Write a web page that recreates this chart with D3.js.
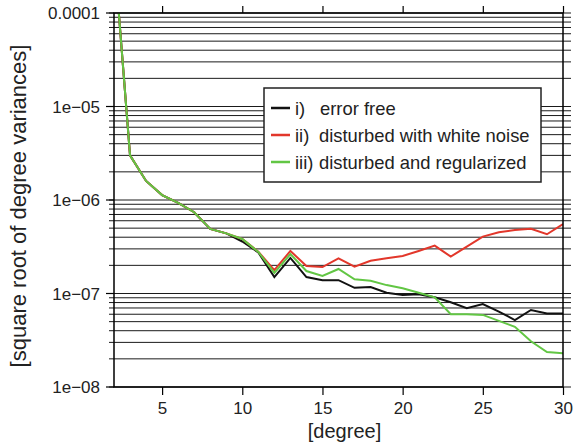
<!DOCTYPE html>
<html>
<head>
<meta charset="utf-8">
<script src="https://cdn.jsdelivr.net/npm/d3@7"></script>
<style>
  body { margin: 0; background: #fff; }
  svg { font-family: "Liberation Sans", Arial, sans-serif; }
</style>
</head>
<body>
<div class="graph"></div>
<script>
// data
const degrees = d3.range(2, 31);
const errorFree = [4.5e-4, 3.0e-6, 1.6e-6, 1.13e-6, 9.3e-7, 7.4e-7, 4.9e-7, 4.4e-7, 3.6e-7, 2.75e-7,
  1.5e-7, 2.4e-7, 1.5e-7, 1.39e-7, 1.39e-7, 1.15e-7, 1.17e-7, 1.02e-7, 9.65e-8, 9.8e-8,
  9.1e-8, 8.05e-8, 6.95e-8, 7.7e-8, 6.4e-8, 5.2e-8, 6.67e-8, 6.1e-8, 6.1e-8];
const whiteNoise = [4.5e-4, 3.0e-6, 1.6e-6, 1.13e-6, 9.3e-7, 7.4e-7, 4.9e-7, 4.4e-7, 3.83e-7, 2.8e-7,
  1.78e-7, 2.85e-7, 1.97e-7, 1.92e-7, 2.38e-7, 1.94e-7, 2.24e-7, 2.38e-7, 2.52e-7, 2.85e-7,
  3.25e-7, 2.48e-7, 3.17e-7, 4.06e-7, 4.51e-7, 4.77e-7, 4.93e-7, 4.3e-7, 5.54e-7];
const regularized = [4.5e-4, 3.0e-6, 1.6e-6, 1.13e-6, 9.3e-7, 7.4e-7, 4.9e-7, 4.4e-7, 3.83e-7, 2.78e-7,
  1.66e-7, 2.64e-7, 1.74e-7, 1.54e-7, 1.83e-7, 1.42e-7, 1.37e-7, 1.23e-7, 1.14e-7, 1.02e-7,
  9.1e-8, 6.0e-8, 6.0e-8, 5.9e-8, 5.1e-8, 4.4e-8, 3.08e-8, 2.37e-8, 2.29e-8];
const xTicks = [5, 10, 15, 20, 25, 30];
const yMajor = [1e-8, 1e-7, 1e-6, 1e-5, 1e-4];
const yLabels = ["1e\u221208", "1e\u221207", "1e\u221206", "1e\u221205", "0.0001"];
const seriesNames = ["error free", "disturbed with white noise", "disturbed and regularized"];
const seriesNums = ["i)", "ii)", "iii)"];
const seriesColors = ["#111111", "#e2372b", "#62c644"];

//dimensions
const SIZE = {X: 578, Y: 447};
const PLOT = {LEFT: 114, RIGHT: 563, TOP: 13, BOTTOM: 387};

const svg = d3.select(".graph").append("svg")
    .attr("width", SIZE.X)
    .attr("height", SIZE.Y);

//scales
const x = d3.scaleLinear().domain([2, 30]).range([PLOT.LEFT, PLOT.RIGHT]);
const y = d3.scaleLog().domain([1e-8, 1e-4]).range([PLOT.BOTTOM, PLOT.TOP]);

//horizontal grid at every log tick, sticking out a bit on both sides
const allTicks = y.ticks().filter(v => v >= 1e-8 && v <= 1e-4 * 1.0001);
svg.append("g").selectAll("line")
    .data(allTicks)
    .join("line")
    .attr("x1", PLOT.LEFT - 5)
    .attr("x2", PLOT.RIGHT + 8)
    .attr("y1", d => y(d))
    .attr("y2", d => y(d))
    .attr("stroke", "#1a1a1a")
    .attr("stroke-width", 1);

//longer ticks at decades
svg.append("g").selectAll("line")
    .data(yMajor)
    .join("line")
    .attr("x1", PLOT.LEFT - 8)
    .attr("x2", PLOT.LEFT)
    .attr("y1", d => y(d))
    .attr("y2", d => y(d))
    .attr("stroke", "#000")
    .attr("stroke-width", 1.2);

//y tick labels
svg.append("g").selectAll("text")
    .data(yMajor)
    .join("text")
    .attr("x", PLOT.LEFT - 14)
    .attr("y", d => y(d))
    .attr("dy", "0.36em")
    .attr("text-anchor", "end")
    .attr("font-size", 17)
    .attr("fill", "#222")
    .text((d, i) => yLabels[i]);

//x ticks bottom and top
const xAxisBottom = svg.append("g")
    .attr("transform", `translate(0, ${PLOT.BOTTOM})`)
    .call(d3.axisBottom(x).tickValues(xTicks).tickSize(8).tickPadding(7));
const xAxisTop = svg.append("g")
    .attr("transform", `translate(0, ${PLOT.TOP})`)
    .call(d3.axisTop(x).tickValues(xTicks).tickSize(7).tickFormat(""));
[xAxisBottom, xAxisTop].forEach(a => {
    a.select(".domain").remove();
    a.selectAll("line").attr("stroke", "#000").attr("stroke-width", 1.2);
});
xAxisBottom.selectAll("text")
    .attr("font-size", 17)
    .attr("font-family", "Liberation Sans, Arial, sans-serif")
    .attr("fill", "#222");

//clip for the lines
svg.append("defs").append("clipPath")
    .attr("id", "clip")
    .append("rect")
    .attr("x", PLOT.LEFT)
    .attr("y", PLOT.TOP)
    .attr("width", PLOT.RIGHT - PLOT.LEFT)
    .attr("height", PLOT.BOTTOM - PLOT.TOP);

const line = d3.line()
    .x((d, i) => x(degrees[i]))
    .y(d => y(d));

const series = [errorFree, whiteNoise, regularized];
svg.append("g")
    .attr("clip-path", "url(#clip)")
    .selectAll("path")
    .data(series)
    .join("path")
    .attr("d", d => line(d))
    .attr("fill", "none")
    .attr("stroke", (d, i) => seriesColors[i])
    .attr("stroke-width", 2)
    .attr("stroke-linejoin", "miter");

//frame
svg.append("rect")
    .attr("x", PLOT.LEFT)
    .attr("y", PLOT.TOP)
    .attr("width", PLOT.RIGHT - PLOT.LEFT)
    .attr("height", PLOT.BOTTOM - PLOT.TOP)
    .attr("fill", "none")
    .attr("stroke", "#000")
    .attr("stroke-width", 1.5);

//legend
const LEG = {X: 264, Y: 88, W: 277, H: 94, ROW: 27};
const legend = svg.append("g");
legend.append("rect")
    .attr("x", LEG.X)
    .attr("y", LEG.Y)
    .attr("width", LEG.W)
    .attr("height", LEG.H)
    .attr("fill", "#fff")
    .attr("stroke", "#222")
    .attr("stroke-width", 1.5);

const rows = legend.selectAll("g.row")
    .data(seriesNames)
    .join("g")
    .attr("class", "row")
    .attr("transform", (d, i) => `translate(${LEG.X}, ${LEG.Y + 20 + i * LEG.ROW})`);
rows.append("line")
    .attr("x1", 7).attr("x2", 26)
    .attr("y1", 0).attr("y2", 0)
    .attr("stroke", (d, i) => seriesColors[i])
    .attr("stroke-width", 2.5);
rows.append("text")
    .attr("x", 31)
    .attr("dy", "0.36em")
    .attr("font-size", 18.4)
    .attr("fill", "#222")
    .text((d, i) => seriesNums[i]);
rows.append("text")
    .attr("x", (d, i) => i === 0 ? 56 : 55)
    .attr("dy", "0.36em")
    .attr("font-size", 18.4)
    .attr("fill", "#222")
    .text(d => d);

//axis titles
svg.append("text")
    .attr("x", (PLOT.LEFT + PLOT.RIGHT) / 2 + 6)
    .attr("y", 438)
    .attr("text-anchor", "middle")
    .attr("font-size", 20)
    .attr("fill", "#222")
    .text("[degree]");

svg.append("text")
    .attr("transform", `translate(26, 206) rotate(-90)`)
    .attr("text-anchor", "middle")
    .attr("font-size", 22)
    .attr("fill", "#222")
    .text("[square root of degree variances]");
</script>
</body>
</html>
